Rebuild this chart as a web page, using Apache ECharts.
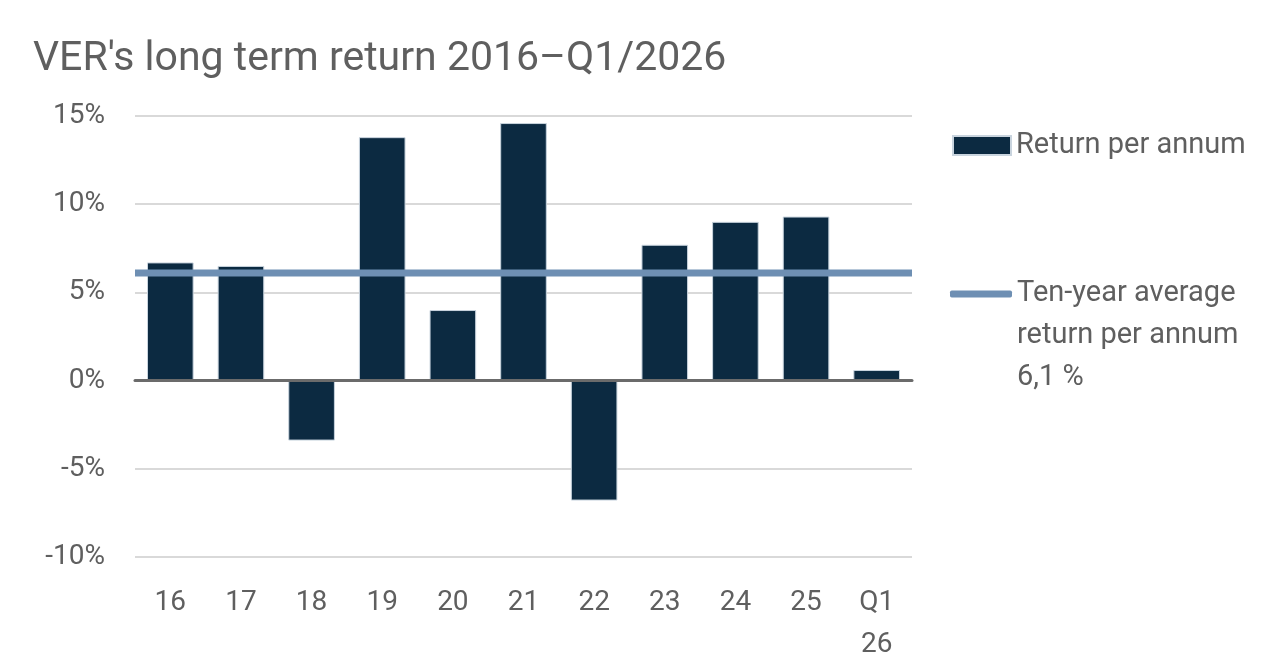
<!DOCTYPE html>
<html>
<head>
<meta charset="utf-8">
<script src="https://cdn.jsdelivr.net/npm/echarts@6/dist/echarts.min.js"></script>
<style>
  html, body { margin: 0; padding: 0; background: #fff; }
  #chart { width: 1288px; height: 672px; }
</style>
</head>
<body>
<div id="chart"></div>
<script>
// categories and values
const years = ['16', '17', '18', '19', '20', '21', '22', '23', '24', '25', 'Q1\n26'];
const returns = [6.7, 6.5, -3.4, 13.8, 4.0, 14.6, -6.8, 7.7, 9.0, 9.3, 0.6];
const avgReturn = 6.1;
const avgLine = years.map(() => avgReturn);

const barName = 'Return per annum';
const lineName = 'Ten-year average\nreturn per annum\n6,1 %';

const textGrey = '#5f5f5f';
const font = 'Roboto';

const chart = echarts.init(document.getElementById('chart'));

chart.setOption({
  animation: false,
  title: {
    text: "VER's long term return 2016\u2013Q1/2026",
    left: 28,
    top: 34,
    textStyle: { color: textGrey, fontSize: 41, fontWeight: 'normal', fontFamily: font }
  },
  legend: [
    {
      data: [barName],
      orient: 'vertical',
      left: 947,
      top: 126,
      icon: 'rect',
      itemWidth: 58,
      itemHeight: 19,
      textStyle: { color: textGrey, fontSize: 29, fontFamily: font }
    },
    {
      data: [lineName],
      orient: 'vertical',
      left: 945,
      top: 184,
      icon: 'roundRect',
      itemWidth: 62,
      itemHeight: 7,
      // two blank lines up front keep the icon level with the first text line
      formatter: name => '\n\n' + name,
      textStyle: { color: textGrey, fontSize: 29, fontFamily: font, lineHeight: 42 }
    }
  ],
  grid: { left: 135, right: 376, top: 116, bottom: 115, containLabel: false },
  xAxis: [
    {
      type: 'category',
      data: years,
      position: 'bottom',
      axisLine: { show: false, onZero: false },
      axisTick: { show: false },
      axisLabel: { color: textGrey, fontSize: 28, fontFamily: font, lineHeight: 42, margin: 25, interval: 0 }
    },
    {
      type: 'category',
      data: years,
      boundaryGap: false,
      position: 'bottom',
      z: 3,
      axisLine: { show: true, onZero: true, lineStyle: { color: '#6b6b6b', width: 3 } },
      axisTick: { show: false },
      axisLabel: { show: false }
    }
  ],
  yAxis: {
    type: 'value',
    min: -10,
    max: 15,
    interval: 5,
    axisLine: { show: false },
    axisTick: { show: false },
    splitLine: { lineStyle: { color: '#d9d9d9', width: 2 } },
    axisLabel: { formatter: '{value}%', color: textGrey, fontSize: 28, fontFamily: font, margin: 30 }
  },
  series: [
    {
      name: barName,
      type: 'bar',
      xAxisIndex: 0,
      data: returns,
      barWidth: '66%',
      itemStyle: { color: '#0c2a41', borderColor: '#c9d4de', borderWidth: 1 }
    },
    {
      name: lineName,
      type: 'line',
      xAxisIndex: 1,
      data: avgLine,
      symbol: 'none',
      z: 4,
      itemStyle: { color: '#6e8fb3' },
      lineStyle: { color: '#6e8fb3', width: 7 }
    }
  ]
});
</script>
</body>
</html>
